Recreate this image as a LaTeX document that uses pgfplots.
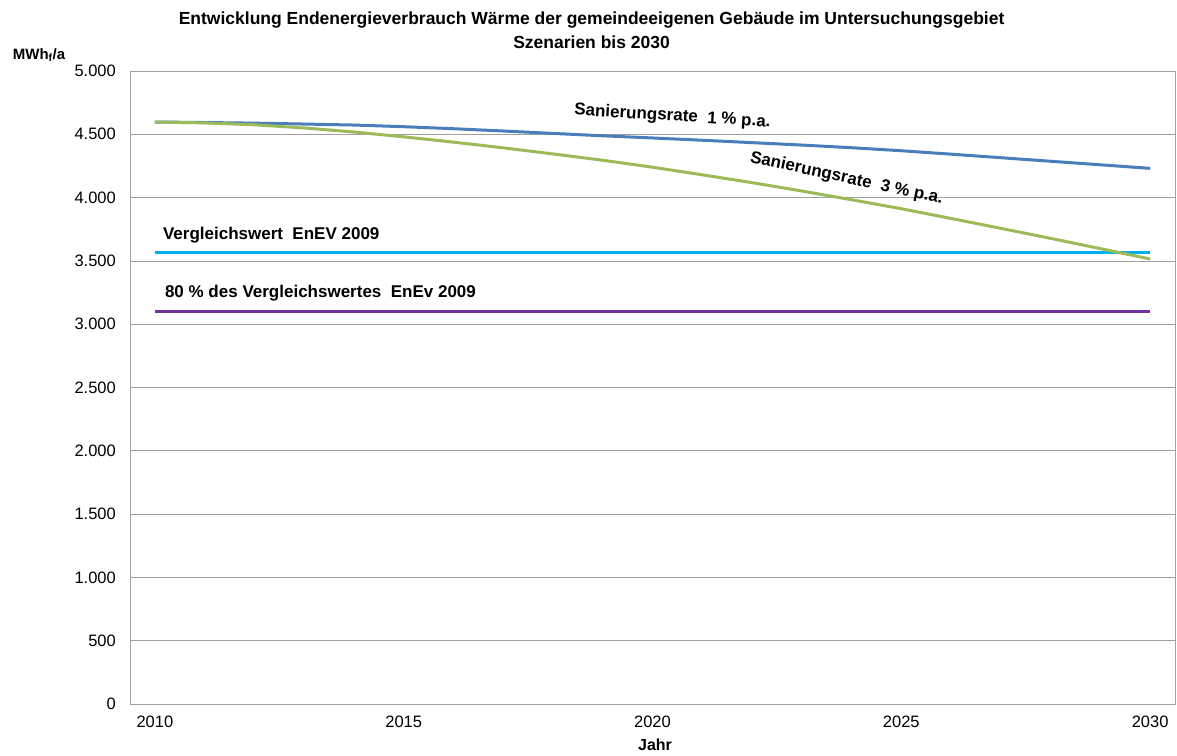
\documentclass[border=0pt]{standalone}
\usepackage{pgfplots}
\pgfplotsset{compat=1.18}
\usepackage{fontspec}
\setmainfont{Liberation Sans}
\definecolor{cBlue}{RGB}{74,126,187}
\definecolor{cGreen}{RGB}{155,187,89}
\definecolor{cCyan}{RGB}{0,176,240}
\definecolor{cPurple}{RGB}{112,48,160}
\definecolor{cGrid}{RGB}{160,160,160}
\begin{document}
\begin{tikzpicture}[x=1bp,y=1bp]
\path[use as bounding box] (-130,-52) rectangle (1047,704);
\begin{axis}[at={(0,0)}, anchor=south west,
  width=1045bp, height=633bp, scale only axis,
  xmin=2009.5, xmax=2030.5, ymin=0, ymax=5000,
  xtick={2010,2015,2020,2025,2030},
  xticklabels={2010,2015,2020,2025,2030},
  ytick={0,500,...,5000},
  yticklabels={0,500,1.000,1.500,2.000,2.500,3.000,3.500,4.000,4.500,5.000},
  ymajorgrids, grid style={cGrid, line width=0.75bp},
  axis line style={cGrid, line width=0.75bp},
  major tick length=0pt,
  ticklabel style={font=\fontsize{16.5bp}{18bp}\selectfont, inner sep=0pt},
  yticklabel style={anchor=east, xshift=-14bp},
  xticklabel style={anchor=center, yshift=-18bp},
  clip=false,
]
\addplot[cPurple, line width=3bp] coordinates {(2010,3100) (2030,3100)};
\addplot[cCyan, line width=3bp] coordinates {(2010,3570) (2030,3570)};
\addplot[cBlue, line width=3bp] coordinates {
(2010,4597) (2011,4593) (2012,4588) (2013,4581) (2014,4573) (2015,4560)
(2016,4544) (2017,4526) (2018,4507) (2019,4488) (2020,4471) (2021,4453)
(2022,4434) (2023,4415) (2024,4394) (2025,4370) (2026,4343) (2027,4315)
(2028,4287) (2029,4259) (2030,4231)};
\addplot[cGreen, line width=3bp] coordinates {
(2010,4597) (2011,4590) (2012,4575) (2013,4550) (2014,4518) (2015,4480)
(2016,4438) (2017,4393) (2018,4345) (2019,4295) (2020,4240) (2021,4180)
(2022,4118) (2023,4052) (2024,3983) (2025,3912) (2026,3835) (2027,3757)
(2028,3678) (2029,3597) (2030,3515)};
\node[font=\bfseries\fontsize{17bp}{18bp}\selectfont, rotate=-3.5] at (axis cs:2020.4,4640) {Sanierungsrate\ \ 1 \% p.a.};
\node[font=\bfseries\fontsize{17bp}{18bp}\selectfont, rotate=-12] at (axis cs:2023.9,4150) {Sanierungsrate\ \ 3 \% p.a.};
\node[font=\bfseries\fontsize{17bp}{18bp}\selectfont, anchor=west, inner sep=0pt] at (axis cs:2010.16,3705) {Vergleichswert\ \ EnEV 2009};
\node[font=\bfseries\fontsize{17bp}{18bp}\selectfont, anchor=west, inner sep=0pt] at (axis cs:2010.2,3247) {80 \% des Vergleichswertes\ \ EnEv 2009};
\node[font=\bfseries\fontsize{17.5bp}{24bp}\selectfont, align=center] at (axis description cs:0.4417,1.0648) {Entwicklung Endenergieverbrauch Wärme der gemeindeeigenen Gebäude im Untersuchungsgebiet\\Szenarien bis 2030};
\node[font=\bfseries\fontsize{15bp}{18bp}\selectfont] at (axis description cs:-0.0870,1.0253) {MWh\textsubscript{f}/a};
\node[font=\bfseries\fontsize{16bp}{18bp}\selectfont] at (axis description cs:0.5024,-0.0648) {Jahr};
\end{axis}
\end{tikzpicture}
\end{document}
